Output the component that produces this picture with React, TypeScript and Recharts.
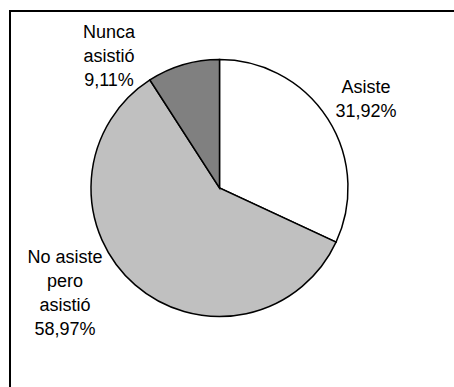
import { PieChart, Pie, Cell } from 'recharts';

const categories = ['Asiste', 'No asiste pero asistió', 'Nunca asistió'];
const shares = [31.92, 58.97, 9.11];
// how each category name is wrapped in its label
const labelLines = [['Asiste'], ['No asiste', 'pero', 'asistió'], ['Nunca', 'asistió']];
const colors = ['#ffffff', '#c0c0c0', '#808080'];

const data = categories.map((name, i) => ({ name, value: shares[i] }));

// label centre, relative to the pie centre (Excel "best fit" placement)
const labelOffset = [
  { dx: 146.5, dy: -89.5 },
  { dx: -154.5, dy: 105 },
  { dx: -110.5, dy: -132 },
];

const LINE_H = 24;

function renderLabel(props: any) {
  const { cx, cy, index, value } = props;
  const lines = [...labelLines[index], value.toFixed(2).replace('.', ',') + '%'];
  const x = cx + labelOffset[index].dx;
  const y0 = cy + labelOffset[index].dy - ((lines.length - 1) * LINE_H) / 2;
  return (
    <text
      key={`lbl-${index}`}
      x={x}
      y={y0}
      textAnchor="middle"
      dominantBaseline="central"
      fontFamily="'Liberation Sans', Arial, sans-serif"
      fontSize={18}
      fill="#000"
    >
      {lines.map((l, i) => (
        <tspan key={i} x={x} y={y0 + i * LINE_H}>
          {l}
        </tspan>
      ))}
    </text>
  );
}

export default function App() {
  return (
    <div style={{ position: 'absolute', left: 0, top: 0, width: 454, height: 387, background: '#fff', overflow: 'hidden' }}>
      <div
        style={{
          position: 'absolute',
          left: 9,
          top: 10,
          width: 460,
          height: 400,
          borderLeft: '2px solid #000',
          borderTop: '2px solid #000',
          boxSizing: 'border-box',
        }}
      />
      <PieChart
        width={454}
        height={387}
        margin={{ top: 0, right: 0, bottom: 0, left: 0 }}
        style={{ position: 'absolute', left: 0, top: 0 }}
      >
        <Pie
          data={data}
          dataKey="value"
          nameKey="name"
          cx={219.5}
          cy={188}
          outerRadius={128.5}
          startAngle={90}
          endAngle={-270}
          stroke="#000"
          strokeWidth={1.5}
          label={renderLabel}
          labelLine={false}
          isAnimationActive={false}
        >
          {data.map((d, i) => (
            <Cell key={d.name} fill={colors[i]} />
          ))}
        </Pie>
      </PieChart>
    </div>
  );
}
